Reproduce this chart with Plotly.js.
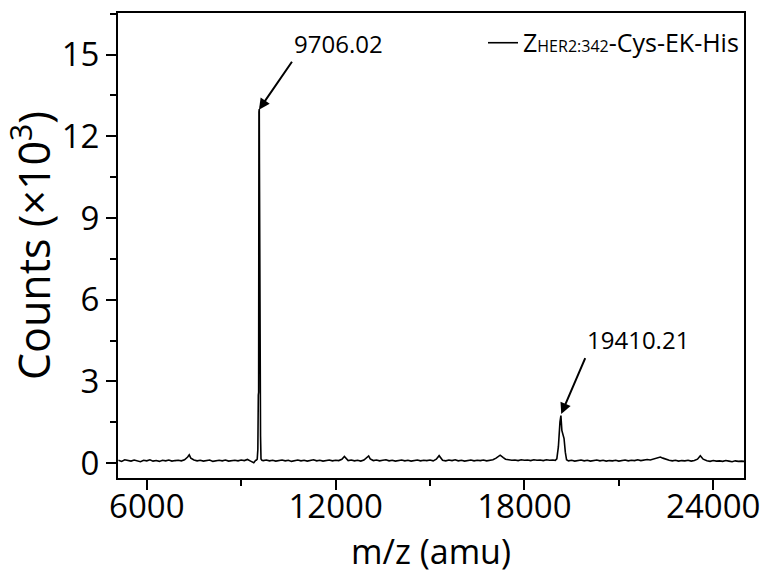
<!DOCTYPE html>
<html>
<head>
<meta charset="utf-8">
<script src="https://cdn.plot.ly/plotly-3.0.1.min.js"></script>
<style>
  html, body { margin: 0; padding: 0; background: #ffffff; }
  #chart { width: 765px; height: 578px; }
</style>
</head>
<body>
<div id="chart"></div>
<script>
// m/z values (amu)
const mz = [
  5100, 5200, 5300, 5400, 5500, 5600, 5700, 5800, 5900, 6000,
  6100, 6200, 6300, 6400, 6500, 6600, 6700, 6800, 6900, 7000,
  7100, 7200, 7300, 7350, 7400, 7500, 7600, 7700, 7800, 7900,
  8000, 8100, 8200, 8300, 8400, 8500, 8600, 8700, 8800, 8900,
  9000, 9100, 9200, 9300, 9400, 9460,
  9480, 9510, 9530, 9545, 9555, 9565, 9575, 9580, 9590, 9600, 9615, 9630, 9660,
  9700, 9800, 9900, 10000, 10100, 10200, 10300, 10400, 10500, 10600,
  10700, 10800, 10900, 11000, 11100, 11200, 11300, 11400, 11500, 11600,
  11700, 11800, 11900, 12000, 12100, 12200, 12280, 12350, 12400, 12500,
  12600, 12700, 12800, 12900, 13000, 13050, 13100, 13200, 13300, 13400,
  13500, 13600, 13700, 13800, 13900, 14000, 14100, 14200, 14300, 14400,
  14500, 14600, 14700, 14800, 14900, 15000, 15100, 15200, 15290, 15350,
  15400, 15500, 15600, 15700, 15800, 15900, 16000, 16100, 16200, 16300,
  16400, 16500, 16600, 16700, 16800, 16900, 17000, 17100, 17230, 17330,
  17400, 17500, 17600, 17700, 17800, 17900, 18000, 18100, 18200, 18300,
  18400, 18500, 18600, 18700, 18800, 18900, 18980,
  19030, 19080, 19130, 19160, 19190, 19220, 19260, 19300, 19340,
  19400, 19500, 19600, 19700, 19800, 19900, 20000, 20100, 20200, 20300,
  20400, 20500, 20600, 20700, 20800, 20900, 21000, 21100, 21200, 21300,
  21400, 21500, 21600, 21700, 21800, 21900, 22000, 22100, 22200, 22320,
  22400, 22500, 22600, 22700, 22800, 22900, 23000, 23100, 23200, 23300,
  23400, 23500, 23590, 23680, 23800, 23900, 24000, 24100, 24200, 24300,
  24400, 24500, 24600, 24700, 24800, 24900, 24980
];
// Counts (x10^3)
const counts = [
  0.10, 0.06, 0.12, 0.09, 0.07, 0.11, 0.08, 0.05, 0.10, 0.08,
  0.12, 0.07, 0.09, 0.06, 0.10, 0.08, 0.11, 0.07, 0.09, 0.10,
  0.08, 0.12, 0.22, 0.30, 0.18, 0.11, 0.08, 0.10, 0.07, 0.09,
  0.11, 0.06, 0.09, 0.10, 0.08, 0.11, 0.07, 0.09, 0.10, 0.08,
  0.11, 0.09, 0.13, 0.07, 0.01, 0.10,
  0.10, 0.14, 0.50, 2.50, 2.60, 12.90, 13.00, 11.00, 4.80, 4.70, 1.00, 0.15, 0.10,
  0.09, 0.11, 0.08, 0.10, 0.07, 0.09, 0.11, 0.08, 0.10, 0.06,
  0.09, 0.11, 0.08, 0.10, 0.07, 0.09, 0.12, 0.08, 0.10, 0.07,
  0.09, 0.11, 0.08, 0.10, 0.09, 0.14, 0.24, 0.13, 0.09, 0.11,
  0.08, 0.10, 0.07, 0.11, 0.20, 0.26, 0.15, 0.09, 0.11, 0.08,
  0.10, 0.12, 0.08, 0.10, 0.07, 0.09, 0.11, 0.08, 0.10, 0.07,
  0.09, 0.11, 0.08, 0.10, 0.09, 0.11, 0.08, 0.14, 0.27, 0.15,
  0.10, 0.08, 0.11, 0.09, 0.12, 0.08, 0.10, 0.07, 0.09, 0.11,
  0.08, 0.10, 0.09, 0.11, 0.08, 0.10, 0.12, 0.18, 0.29, 0.20,
  0.14, 0.12, 0.10, 0.11, 0.09, 0.12, 0.10, 0.11, 0.09, 0.12,
  0.10, 0.11, 0.09, 0.12, 0.10, 0.11, 0.10,
  0.15, 0.60, 1.50, 1.74, 1.20, 1.05, 0.90, 0.40, 0.12,
  0.08, 0.10, 0.07, 0.09, 0.11, 0.08, 0.10, 0.07, 0.09, 0.11,
  0.08, 0.10, 0.07, 0.09, 0.08, 0.10, 0.07, 0.09, 0.11, 0.08,
  0.10, 0.09, 0.12, 0.09, 0.10, 0.13, 0.11, 0.14, 0.17, 0.22,
  0.18, 0.13, 0.10, 0.08, 0.10, 0.07, 0.09, 0.08, 0.10, 0.07,
  0.09, 0.14, 0.27, 0.14, 0.08, 0.06, 0.09, 0.07, 0.08, 0.06,
  0.09, 0.07, 0.05, 0.08, 0.06, 0.07, 0.06
];
// Peak labels
const peakLabels = ["9706.02", "19410.21"];
const peakX = [9565, 19170];
const peakY = [13.05, 1.8];
const seriesName = "Z<span style='font-size:16px'>HER2:342</span>-Cys-EK-His";
const xTickVals = [6000, 12000, 18000, 24000];
const yTickVals = [0, 3, 6, 9, 12, 15];

const FONT = "Open Sans, sans-serif";

const trace = {
  x: mz,
  y: counts,
  type: "scatter",
  mode: "lines",
  name: seriesName,
  line: { color: "#000000", width: 1.6 },
  showlegend: true
};

const layout = {
  width: 765,
  height: 578,
  margin: { l: 118, r: 21, t: 13, b: 100 },
  paper_bgcolor: "#ffffff",
  plot_bgcolor: "#ffffff",
  font: { family: FONT, color: "#000000", size: 33 },
  showlegend: true,
  legend: {
    x: 1, xanchor: "right", y: 0.985, yanchor: "top",
    bgcolor: "rgba(0,0,0,0)",
    font: { family: FONT, size: 25, color: "#000000" }
  },
  xaxis: {
    range: [5086, 24978],
    tickmode: "array",
    tickvals: xTickVals,
    ticktext: xTickVals.map(String),
    ticks: "outside",
    ticklen: 10,
    tickwidth: 2,
    tickcolor: "#000000",
    ticklabelstandoff: -12,
    minor: { dtick: 3000, tick0: 0, ticks: "outside", ticklen: 6, tickwidth: 2, tickcolor: "#000000" },
    showline: true,
    linewidth: 2,
    linecolor: "#000000",
    mirror: true,
    showgrid: false,
    zeroline: false,
    automargin: false,
    tickfont: { family: FONT, size: 33 },
    title: { text: "m/z (amu)", standoff: 2, font: { family: FONT, size: 34 } }
  },
  yaxis: {
    range: [-0.55, 16.53],
    tickmode: "array",
    tickvals: yTickVals,
    ticktext: yTickVals.map(String),
    ticks: "outside",
    ticklen: 10,
    tickwidth: 2,
    tickcolor: "#000000",
    minor: { dtick: 1.5, tick0: 0, ticks: "outside", ticklen: 6, tickwidth: 2, tickcolor: "#000000" },
    showline: true,
    linewidth: 2,
    linecolor: "#000000",
    mirror: true,
    showgrid: false,
    zeroline: false,
    automargin: false,
    tickfont: { family: FONT, size: 33 },
    title: { text: "Counts (×10<sup>3</sup>)", font: { family: FONT, size: 43 } }
  },
  annotations: [
    {
      x: peakX[0], y: peakY[0], xref: "x", yref: "y",
      text: peakLabels[0],
      showarrow: true, arrowhead: 2, arrowsize: 1.1, arrowwidth: 2, arrowcolor: "#000000",
      ax: 33, ay: -48, xanchor: "left", yanchor: "bottom", yshift: -2,
      font: { family: FONT, size: 24, color: "#000000" }
    },
    {
      x: peakX[1], y: peakY[1], xref: "x", yref: "y",
      text: peakLabels[1],
      showarrow: true, arrowhead: 2, arrowsize: 1.1, arrowwidth: 2, arrowcolor: "#000000",
      ax: 24, ay: -56, xanchor: "left", yanchor: "bottom",
      font: { family: FONT, size: 24, color: "#000000" }
    }
  ]
};

Plotly.newPlot("chart", [trace], layout, { staticPlot: true, displayModeBar: false });
</script>
</body>
</html>
